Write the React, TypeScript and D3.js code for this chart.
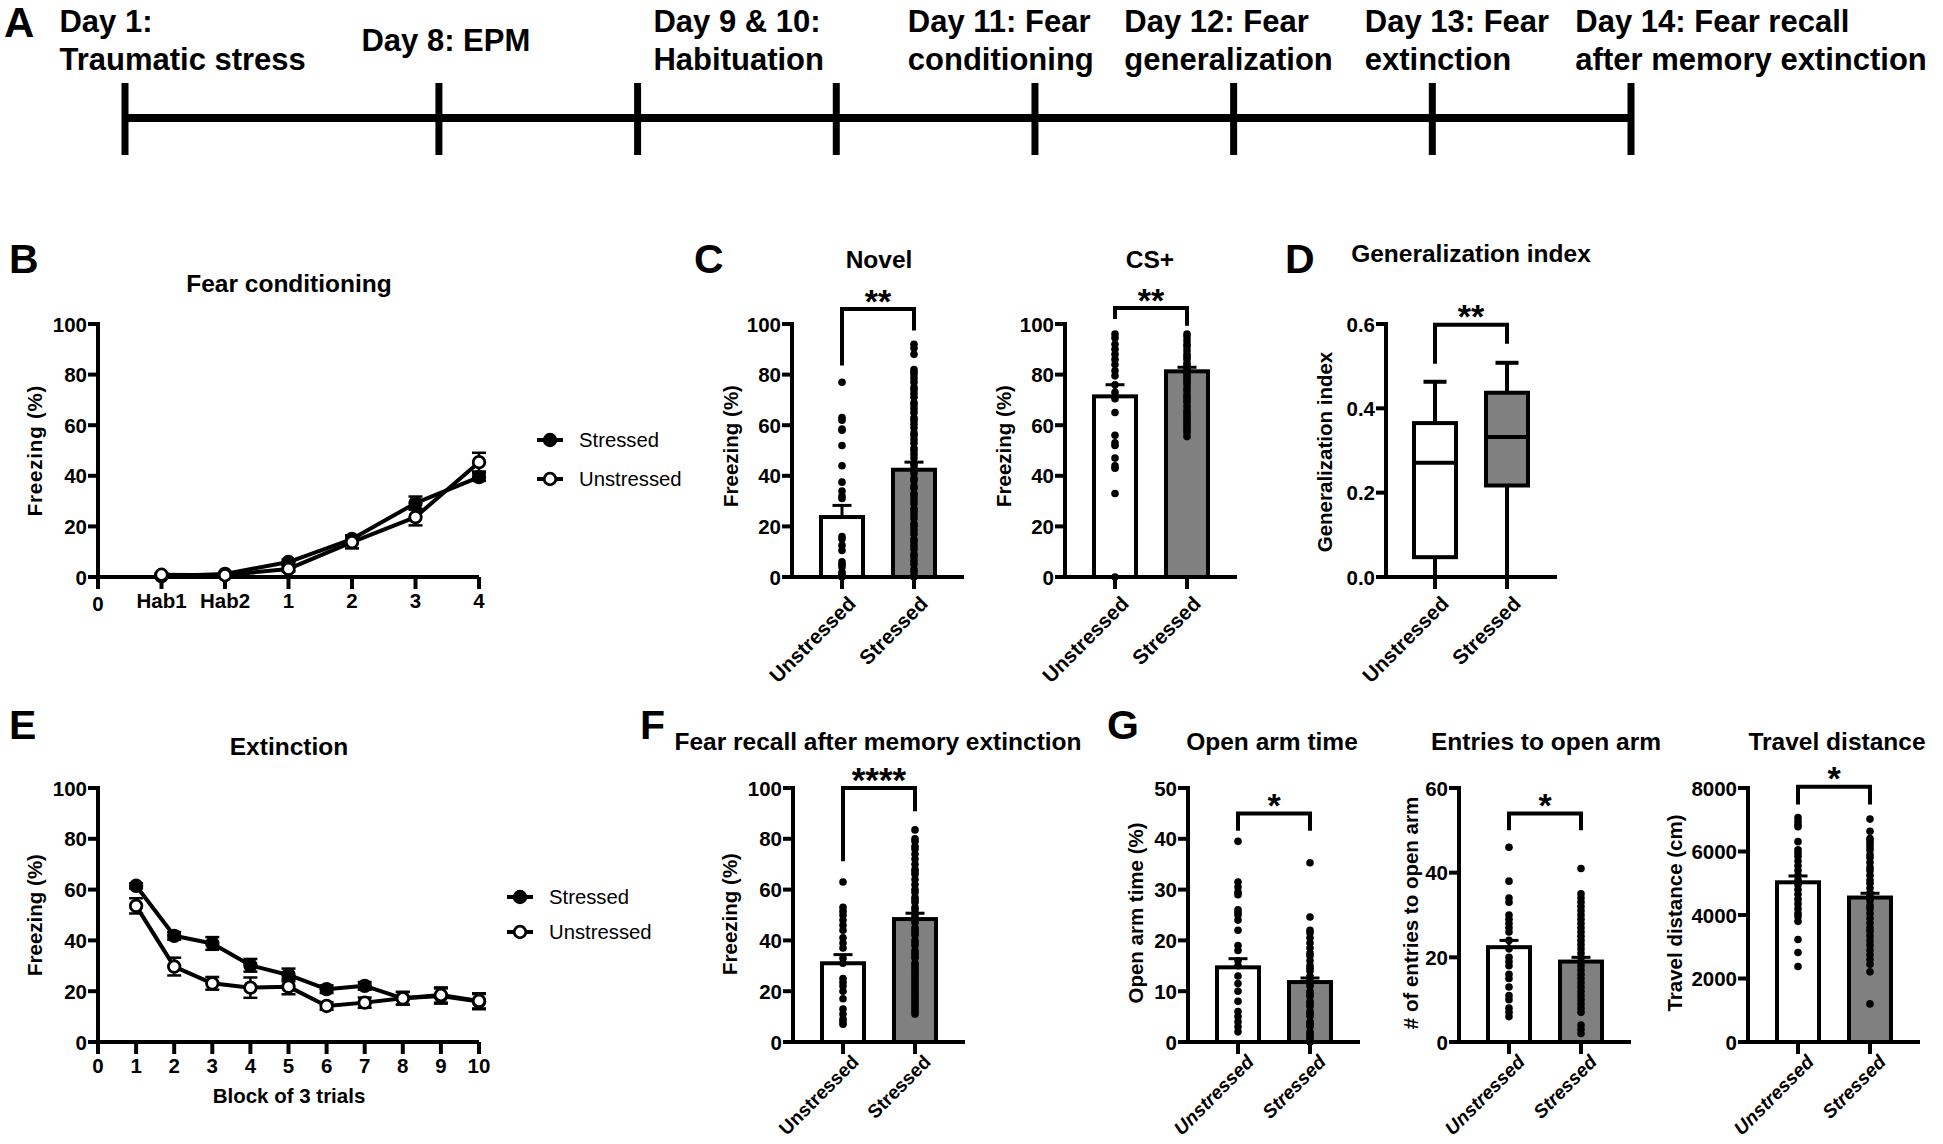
import React from "react";
import * as d3 from "d3";

const FONT = "'Liberation Sans', Arial, Helvetica, sans-serif";
const GROUPS = ["Unstressed", "Stressed"];
const FILLS = ["#ffffff", "#808080"];

// ---------- A: timeline ----------
const timelineTicks = [0, 1.58, 2.58, 3.58, 4.58, 5.58, 6.58, 7.58];
const timelineLabelPos = [-0.33, 1.19, 2.66, 3.94, 5.03, 6.24, 7.3];
const timelineLabels = [
  ["Day 1:", "Traumatic stress"],
  ["Day 8: EPM"],
  ["Day 9 & 10:", "Habituation"],
  ["Day 11: Fear", "conditioning"],
  ["Day 12: Fear", "generalization"],
  ["Day 13: Fear", "extinction"],
  ["Day 14: Fear recall", "after memory extinction"],
];

// ---------- B: fear conditioning ----------
const condTickLabels = ["0", "Hab1", "Hab2", "1", "2", "3", "4"];
const condX = [1, 2, 3, 4, 5, 6];
const condStressed = [0.3, 1.2, 5.9, 15, 29.2, 39.5];
const condStressedErr = [0.4, 0.5, 1, 1.5, 2.6, 1.5];
const condUnstressed = [0.9, 0.7, 3.2, 13.8, 23.7, 45.4];
const condUnstressedErr = [0.5, 0.5, 1, 2.5, 3.3, 3.7];

// ---------- C: generalization ----------
const novelMeans = [23.7, 42.4];
const novelSems = [4.6, 3.0];
const novelUnstressedDots = [77, 63, 62, 58.5, 58, 52, 44, 37.5, 34, 32, 31, 16, 15, 12.5, 10.5, 6, 5, 4, 2, 1, 0];
const novelStressedDots = [92, 90.5, 88, 82, 81, 80, 78.5, 77, 75, 74, 72.5, 71, 69, 68, 66.5, 65, 63, 62, 60.5, 59, 57, 56, 54.5, 53, 51, 50, 48.5, 47, 45, 44, 42.5, 41, 39, 38, 36, 35, 33, 32, 30.5, 29, 27, 26, 24.5, 23, 21, 20, 18.5, 17, 15, 14, 12.5, 11, 9, 8, 6.5, 5, 3, 2, 0.5, 0];
const csMeans = [71.4, 81.3];
const csSems = [4.6, 1.6];
const csUnstressedDots = [96, 94.5, 92, 90, 88, 86, 84, 81.5, 79.5, 76, 73, 70.5, 65, 56, 53, 52, 47, 44, 43, 33, 0];
const csStressedDots = [96, 95, 93.5, 92, 91, 89.5, 88, 87, 86, 84.5, 83.5, 82, 81, 80, 79, 78, 77, 76, 74.5, 73.5, 72, 71, 70, 69, 67.5, 66, 65, 64, 63, 62, 61, 60, 59, 58, 57, 55.5];

// ---------- D: generalization index ----------
const genMin = [0, 0];
const genQ1 = [0.047, 0.217];
const genMedian = [0.271, 0.332];
const genQ3 = [0.365, 0.437];
const genMax = [0.463, 0.508];

// ---------- E: extinction ----------
const extTickLabels = ["0", "1", "2", "3", "4", "5", "6", "7", "8", "9", "10"];
const extX = [1, 2, 3, 4, 5, 6, 7, 8, 9, 10];
const extStressed = [61.5, 41.8, 38.8, 30.2, 26.4, 20.8, 22.1, 17.2, 18.1, 15.9];
const extStressedErr = [1, 1.5, 2.5, 2.5, 2.5, 1.5, 1.5, 2.5, 3, 3];
const extUnstressed = [53.6, 29.7, 23.1, 21.4, 21.8, 14.2, 15.5, 17.2, 18.5, 16.2];
const extUnstressedErr = [3, 3.5, 2.5, 4, 3, 1.5, 2, 2.5, 3, 3];

// ---------- F: recall ----------
const recallMeans = [31, 48.4];
const recallSems = [3.4, 2.3];
const recallUnstressedDots = [63, 53, 51.5, 50, 48, 46, 44, 41, 39, 37, 33, 31, 25, 23.5, 22, 20, 17, 13, 11, 9, 8, 7];
const recallStressedDots = [83.5, 80, 79, 77, 76, 74, 72, 70, 68, 67, 66, 64, 62, 60, 59, 57, 56, 55, 53, 52, 50, 49, 48, 47, 45, 44, 43, 42, 40, 39, 38, 36, 35, 34, 33, 31, 30, 29, 28, 27, 26, 25, 24, 23, 22, 21, 20, 19, 18, 17, 16, 15, 14, 13, 12, 11];

// ---------- G: EPM ----------
const openMeans = [14.7, 11.8];
const openSems = [1.7, 0.8];
const openUnstressedDots = [39.5, 31.5, 30.5, 29.5, 29, 26, 25.5, 25, 24, 22, 19, 18, 16, 15, 13, 11.5, 10, 8, 6, 5, 4, 3, 2];
const openStressedDots = [35.3, 24.6, 22, 21.5, 20.5, 19.5, 18.5, 17.5, 17, 16, 15, 14.5, 14, 13, 12, 11.5, 11, 10, 9.5, 9, 8, 7.5, 7, 6, 5.5, 5, 4, 3.5, 3, 2, 1.5, 1, 0.5, 0];
const entMeans = [22.4, 19.0];
const entSems = [1.6, 1.0];
const entUnstressedDots = [46, 38, 34, 33, 30, 29, 28, 27, 26, 24, 22, 20, 19, 18, 16, 15, 13, 11, 10, 8, 7, 6];
const entStressedDots = [41, 35, 34, 33, 32, 31, 30, 29, 28, 27, 26, 25, 24, 23, 22, 21, 20, 19, 18, 17, 16, 15, 14, 13, 12, 11, 10, 9, 8, 7, 4, 3, 2];
const travelMeans = [5030, 4550];
const travelSems = [200, 135];
const travelUnstressedDots = [7070, 6950, 6850, 6780, 6310, 6050, 5950, 5850, 5700, 5550, 5400, 5250, 5100, 4950, 4800, 4650, 4500, 4350, 4200, 4050, 3950, 3800, 3230, 2820, 2380];
const travelStressedDots = [7020, 6640, 6410, 6350, 6250, 6150, 6050, 5900, 5800, 5650, 5500, 5400, 5250, 5100, 5000, 4850, 4700, 4600, 4450, 4300, 4200, 4050, 3900, 3750, 3600, 3500, 3350, 3200, 3050, 2900, 2750, 2600, 2450, 2210, 1200];

const TOP = { y0: 577, yTop: 324, labelDx: 15, labelDy: 28, labelFs: 20.5 };
const BOT = { y0: 1042, yTop: 788, labelDx: 17, labelDy: 21, labelFs: 19 };

const TICK_FS = 20.5;
const TITLE_FS = 24.5;
const LABEL_FS = 20.5;

function Timeline() {
  const x = d3.scaleLinear().domain([0, 7.58]).range([125, 1631]);
  return (
    <g>
      <text x={4} y={37} fontSize={42} fontWeight="bold">A</text>
      <line x1={x(0)} x2={x(7.58)} y1={118} y2={118} stroke="#000" strokeWidth={8} />
      {timelineTicks.map((t, i) => (
        <line key={i} x1={x(t)} x2={x(t)} y1={83} y2={155} stroke="#000" strokeWidth={7} />
      ))}
      {timelineLabels.map((lines, i) => (
        <text key={i} fontSize={31} fontWeight="bold">
          {lines.length === 1 ? (
            <tspan x={x(timelineLabelPos[i])} y={51}>{lines[0]}</tspan>
          ) : (
            lines.map((l, j) => (
              <tspan key={j} x={x(timelineLabelPos[i])} y={32 + 38 * j}>{l}</tspan>
            ))
          )}
        </text>
      ))}
    </g>
  );
}

function YAxis({ ax, y, ticks, fmt, bottomExt = 0 }) {
  return (
    <g>
      <line x1={ax} x2={ax} y1={y(ticks[ticks.length - 1]) - 2} y2={y(ticks[0]) + bottomExt} stroke="#000" strokeWidth={4} />
      {ticks.map((t, i) => (
        <g key={i}>
          <line x1={ax - 10} x2={ax} y1={y(t)} y2={y(t)} stroke="#000" strokeWidth={4} />
          <text x={ax - 11} y={y(t) + 7.5} textAnchor="end" fontSize={TICK_FS} fontWeight="bold">
            {fmt ? fmt(t) : t}
          </text>
        </g>
      ))}
    </g>
  );
}

function YLabel({ x, y, text, spacing = 0 }) {
  return (
    <text transform={`translate(${x + 7},${y}) rotate(-90)`} textAnchor="middle" fontSize={LABEL_FS} fontWeight="bold" letterSpacing={spacing}>
      {text}
    </text>
  );
}

function CatLabels({ x, row, italic }) {
  return (
    <g>
      {GROUPS.map((g) => (
        <g key={g}>
          <line x1={x(g)} x2={x(g)} y1={row.y0} y2={row.y0 + 12} stroke="#000" strokeWidth={4} />
          <text
            transform={`translate(${x(g) + row.labelDx},${row.y0 + row.labelDy}) rotate(-45)`}
            textAnchor="end"
            fontSize={row.labelFs}
            fontWeight="bold"
            fontStyle={italic ? "italic" : "normal"}
          >
            {g}
          </text>
        </g>
      ))}
    </g>
  );
}

function Bracket({ x, y, br }) {
  const xl = x(GROUPS[0]);
  const xr = x(GROUPS[1]);
  const yt = y(br.top);
  const fs = br.stars.length > 2 ? 35 : 34;
  return (
    <g>
      <path d={`M${xl},${y(br.l)}V${yt}H${xr}V${y(br.r)}`} fill="none" stroke="#000" strokeWidth={4} />
      <text x={(xl + xr) / 2} y={yt - 16 + fs * 0.575} textAnchor="middle" fontSize={fs} fontWeight="bold">
        {br.stars}
      </text>
    </g>
  );
}

function BarPanel({ ax, row, yMax, yTicks, means, sems, dots, bracket, title, titleX, titleY, ylabel, ylabelX, ylabelY, italic = false }) {
  const y = d3.scaleLinear().domain([0, yMax]).range([row.y0, row.yTop]);
  const x = d3.scalePoint().domain(GROUPS).range([ax + 50, ax + 122]);
  const bw = 42;
  return (
    <g>
      <text x={titleX} y={titleY} textAnchor="middle" fontSize={TITLE_FS} fontWeight="bold">{title}</text>
      {GROUPS.map((g, i) => (
        <rect key={g} x={x(g) - bw / 2} y={y(means[i])} width={bw} height={y(0) - y(means[i])} fill={FILLS[i]} stroke="#000" strokeWidth={4} />
      ))}
      {GROUPS.map((g, i) =>
        dots[i].map((v, j) => <circle key={g + j} cx={x(g)} cy={y(v)} r={3.8} fill="#000" />)
      )}
      {GROUPS.map((g, i) => (
        <g key={g}>
          <line x1={x(g)} x2={x(g)} y1={y(means[i])} y2={y(means[i] + sems[i])} stroke="#000" strokeWidth={3} />
          <line x1={x(g) - 9.5} x2={x(g) + 9.5} y1={y(means[i] + sems[i])} y2={y(means[i] + sems[i])} stroke="#000" strokeWidth={3} />
        </g>
      ))}
      <YAxis ax={ax} y={y} ticks={yTicks} fmt={null} />
      <line x1={ax - 10} x2={ax + 172} y1={row.y0} y2={row.y0} stroke="#000" strokeWidth={4} />
      <CatLabels x={x} row={row} italic={italic} />
      <Bracket x={x} y={y} br={bracket} />
      <YLabel x={ylabelX} y={ylabelY} text={ylabel} />
    </g>
  );
}

function BoxPanel() {
  const ax = 1386;
  const y = d3.scaleLinear().domain([0, 0.6]).range([TOP.y0, TOP.yTop]);
  const x = d3.scalePoint().domain(GROUPS).range([ax + 49, ax + 121]);
  const bw = 42;
  const cap = 23;
  return (
    <g>
      <text x={1471} y={262} textAnchor="middle" fontSize={TITLE_FS} fontWeight="bold">Generalization index</text>
      {GROUPS.map((g, i) => (
        <g key={g}>
          <line x1={x(g)} x2={x(g)} y1={y(genMax[i])} y2={y(genQ3[i])} stroke="#000" strokeWidth={4} />
          <line x1={x(g)} x2={x(g)} y1={y(genQ1[i])} y2={y(genMin[i])} stroke="#000" strokeWidth={4} />
          <line x1={x(g) - cap / 2} x2={x(g) + cap / 2} y1={y(genMax[i])} y2={y(genMax[i])} stroke="#000" strokeWidth={4} />
          <line x1={x(g) - cap / 2} x2={x(g) + cap / 2} y1={y(genMin[i])} y2={y(genMin[i])} stroke="#000" strokeWidth={4} />
          <rect x={x(g) - bw / 2} y={y(genQ3[i])} width={bw} height={y(genQ1[i]) - y(genQ3[i])} fill={FILLS[i]} stroke="#000" strokeWidth={4} />
          <line x1={x(g) - bw / 2} x2={x(g) + bw / 2} y1={y(genMedian[i])} y2={y(genMedian[i])} stroke="#000" strokeWidth={4} />
        </g>
      ))}
      <YAxis ax={ax} y={y} ticks={[0, 0.2, 0.4, 0.6]} fmt={d3.format(".1f")} />
      <line x1={ax - 10} x2={ax + 171} y1={TOP.y0} y2={TOP.y0} stroke="#000" strokeWidth={4} />
      <CatLabels x={x} row={TOP} italic={false} />
      <Bracket x={x} y={y} br={{ top: 0.598, l: 0.506, r: 0.553, stars: "**" }} />
      <YLabel x={1325} y={452} text="Generalization index" />
    </g>
  );
}

function Marker({ cx, cy, filled }) {
  return <circle cx={cx} cy={cy} r={5.8} fill={filled ? "#000" : "#fff"} stroke="#000" strokeWidth={2.8} />;
}

function LinePanel({ row, xMax, tickLabels, zeroDrop, xs, s, sErr, u, uErr, title, titleY, ylabel, ylabelSpacing, xlabel, legendX, legendYs }) {
  const x = d3.scaleLinear().domain([0, xMax]).range([98, 479]);
  const y = d3.scaleLinear().domain([0, 100]).range([row.y0, row.yTop]);
  const line = d3.line().x((d, i) => x(xs[i])).y((d) => y(d));
  const series = [
    { vals: s, err: sErr, filled: true },
    { vals: u, err: uErr, filled: false },
  ];
  return (
    <g>
      <text x={289} y={titleY} textAnchor="middle" fontSize={TITLE_FS} fontWeight="bold">{title}</text>
      <YAxis ax={98} y={y} ticks={[0, 20, 40, 60, 80, 100]} fmt={null} bottomExt={12} />
      <line x1={88} x2={x(xMax)} y1={row.y0} y2={row.y0} stroke="#000" strokeWidth={4} />
      {tickLabels.map((t, i) => (
        <g key={i}>
          <line x1={x(i)} x2={x(i)} y1={row.y0} y2={row.y0 + 12} stroke="#000" strokeWidth={4} />
          <text x={x(i)} y={row.y0 + 31 + (i === 0 ? zeroDrop : 0)} textAnchor="middle" fontSize={TICK_FS} fontWeight="bold">{t}</text>
        </g>
      ))}
      {series.map((se, k) => (
        <g key={k}>
          {se.vals.map((v, i) => (
            <g key={i}>
              <line x1={x(xs[i])} x2={x(xs[i])} y1={y(v - se.err[i])} y2={y(v + se.err[i])} stroke="#000" strokeWidth={2.5} />
              <line x1={x(xs[i]) - 7} x2={x(xs[i]) + 7} y1={y(v - se.err[i])} y2={y(v - se.err[i])} stroke="#000" strokeWidth={2.5} />
              <line x1={x(xs[i]) - 7} x2={x(xs[i]) + 7} y1={y(v + se.err[i])} y2={y(v + se.err[i])} stroke="#000" strokeWidth={2.5} />
            </g>
          ))}
          <path d={line(se.vals)} fill="none" stroke="#000" strokeWidth={4} strokeLinejoin="round" />
        </g>
      ))}
      {series.map((se, k) => (
        <g key={k}>
          {se.vals.map((v, i) => (
            <Marker key={i} cx={x(xs[i])} cy={y(v)} filled={se.filled} />
          ))}
        </g>
      ))}
      {["Stressed", "Unstressed"].map((name, k) => (
        <g key={name}>
          <line x1={legendX - 13} x2={legendX + 13} y1={legendYs[k]} y2={legendYs[k]} stroke="#000" strokeWidth={4} />
          <Marker cx={legendX} cy={legendYs[k]} filled={k === 0} />
          <text x={legendX + 29} y={legendYs[k] + 7} fontSize={20.3}>{name}</text>
        </g>
      ))}
      <YLabel x={35} y={(row.y0 + row.yTop) / 2} text={ylabel} spacing={ylabelSpacing} />
      {xlabel && (
        <text x={289} y={row.y0 + 61} textAnchor="middle" fontSize={LABEL_FS} fontWeight="bold">{xlabel}</text>
      )}
    </g>
  );
}

function PanelLetter({ x, y, t }) {
  return <text x={x} y={y} fontSize={41} fontWeight="bold">{t}</text>;
}

export default function App() {
  return (
    <svg width={1943} height={1144} style={{ position: "absolute", left: 0, top: 0, display: "block" }} fontFamily={FONT}>
      <rect width={1943} height={1144} fill="#fff" />
      <Timeline />

      <PanelLetter x={9} y={273} t="B" />
      <PanelLetter x={694} y={273} t="C" />
      <PanelLetter x={1285} y={273} t="D" />
      <PanelLetter x={9} y={739} t="E" />
      <PanelLetter x={640} y={739} t="F" />
      <PanelLetter x={1107} y={739} t="G" />

      <LinePanel
        row={TOP}
        xMax={6}
        tickLabels={condTickLabels}
        zeroDrop={3}
        xs={condX}
        s={condStressed}
        sErr={condStressedErr}
        u={condUnstressed}
        uErr={condUnstressedErr}
        title="Fear conditioning"
        titleY={292}
        ylabel="Freezing  (%)"
        ylabelSpacing={0.8}
        xlabel={null}
        legendX={550}
        legendYs={[440, 479]}
      />

      <BarPanel ax={792} row={TOP} yMax={100} yTicks={[0, 20, 40, 60, 80, 100]} means={novelMeans} sems={novelSems}
        dots={[novelUnstressedDots, novelStressedDots]} bracket={{ top: 105.9, l: 83.6, r: 97.4, stars: "**" }}
        title="Novel" titleX={879} titleY={268} ylabel="Freezing (%)" ylabelX={731} ylabelY={446} />
      <BarPanel ax={1065} row={TOP} yMax={100} yTicks={[0, 20, 40, 60, 80, 100]} means={csMeans} sems={csSems}
        dots={[csUnstressedDots, csStressedDots]} bracket={{ top: 106.3, l: 102, r: 99.3, stars: "**" }}
        title="CS+" titleX={1150} titleY={268} ylabel="Freezing (%)" ylabelX={1004} ylabelY={446} />

      <BoxPanel />

      <LinePanel
        row={BOT}
        xMax={10}
        tickLabels={extTickLabels}
        zeroDrop={0}
        xs={extX}
        s={extStressed}
        sErr={extStressedErr}
        u={extUnstressed}
        uErr={extUnstressedErr}
        title="Extinction"
        titleY={755}
        ylabel="Freezing (%)"
        ylabelSpacing={0}
        xlabel="Block of 3 trials"
        legendX={520}
        legendYs={[897, 932]}
      />

      <BarPanel ax={793} row={BOT} yMax={100} yTicks={[0, 20, 40, 60, 80, 100]} means={recallMeans} sems={recallSems}
        dots={[recallUnstressedDots, recallStressedDots]} bracket={{ top: 100, l: 71.2, r: 90.8, stars: "****" }}
        title="Fear recall after memory extinction" titleX={878} titleY={750} ylabel="Freezing (%)" ylabelX={730} ylabelY={914} />

      <BarPanel ax={1188} row={BOT} yMax={50} yTicks={[0, 10, 20, 30, 40, 50]} means={openMeans} sems={openSems}
        dots={[openUnstressedDots, openStressedDots]} bracket={{ top: 45, l: 41.6, r: 41.6, stars: "*" }}
        title="Open arm time" titleX={1272} titleY={750} ylabel="Open arm time (%)" ylabelX={1136} ylabelY={913} italic />
      <BarPanel ax={1459} row={BOT} yMax={60} yTicks={[0, 20, 40, 60]} means={entMeans} sems={entSems}
        dots={[entUnstressedDots, entStressedDots]} bracket={{ top: 54, l: 50, r: 50, stars: "*" }}
        title="Entries to open arm" titleX={1546} titleY={750} ylabel="# of entries to open arm" ylabelX={1411} ylabelY={913} italic />
      <BarPanel ax={1748} row={BOT} yMax={8000} yTicks={[0, 2000, 4000, 6000, 8000]} means={travelMeans} sems={travelSems}
        dots={[travelUnstressedDots, travelStressedDots]} bracket={{ top: 8040, l: 7480, r: 7480, stars: "*" }}
        title="Travel distance" titleX={1837} titleY={750} ylabel="Travel distance (cm)" ylabelX={1675} ylabelY={913} italic />
    </svg>
  );
}
